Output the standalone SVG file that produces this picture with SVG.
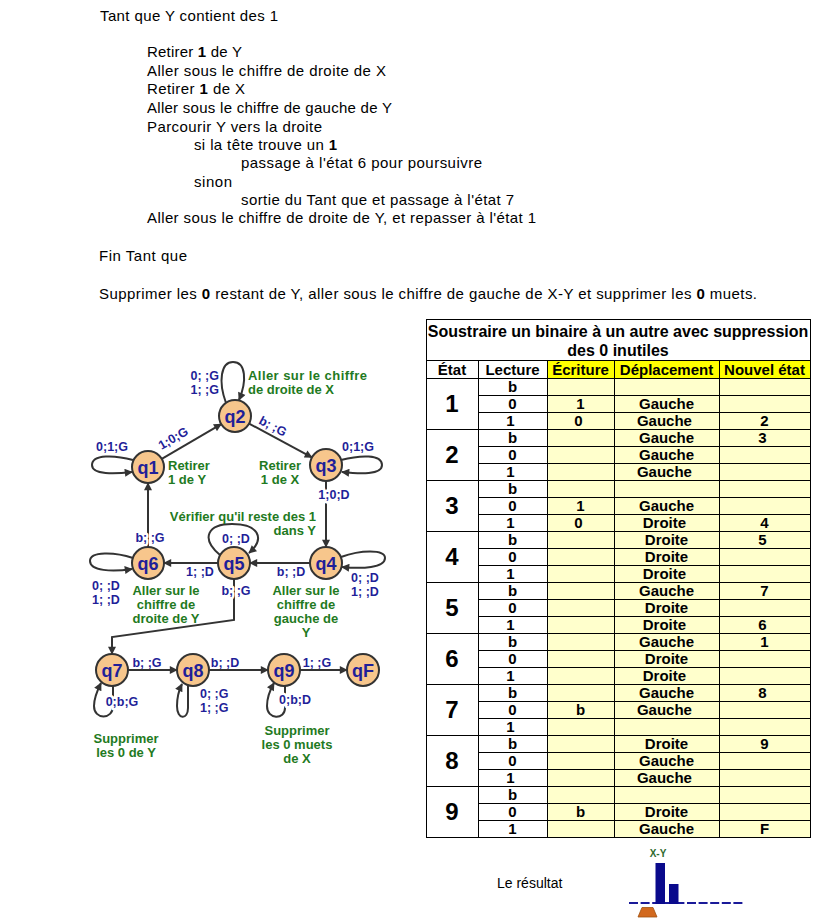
<svg xmlns="http://www.w3.org/2000/svg" width="830" height="920" viewBox="0 0 830 920">
<style>
 text{font-family:"Liberation Sans",Arial,sans-serif}
 .t{font-size:15px;fill:#000}
 .b{font-weight:bold}
 .nd circle{fill:#f7c68c;stroke:#333;stroke-width:2}
 .nd text{font-size:18px;font-weight:bold;fill:#1f1f99;text-anchor:middle}
 .e{fill:none;stroke:#333;stroke-width:2}
 .l{font-size:12.5px;font-weight:bold;fill:#1f1f99;text-anchor:middle}
 .h{stroke:#fff;stroke-width:5;paint-order:stroke;stroke-linejoin:round}
 .g{font-size:13px;font-weight:bold;fill:#1f7a22;text-anchor:middle}
 .td{font-size:15px;font-weight:bold;fill:#000;text-anchor:middle}
 .st{font-size:24px;font-weight:bold;fill:#000;text-anchor:middle}
 .grid{fill:none;stroke:#000;stroke-width:1;shape-rendering:crispEdges}
</style>
<defs>
 <marker id="ar" viewBox="0 0 10 10" refX="9" refY="5" markerWidth="9" markerHeight="8" markerUnits="userSpaceOnUse" orient="auto">
  <path d="M0,0 L10,5 L0,10 z" fill="#333"/>
 </marker>
</defs>
<rect width="830" height="920" fill="#fff"/>

<g id="algorithm">
 <text class="t" x="100" y="21" textLength="178">Tant que Y contient des 1</text>
 <text class="t" x="147" y="57" textLength="95">Retirer <tspan class="b">1</tspan> de Y</text>
 <text class="t" x="147" y="76" textLength="239">Aller sous le chiffre de droite de X</text>
 <text class="t" x="147" y="94" textLength="98">Retirer <tspan class="b">1</tspan> de X</text>
 <text class="t" x="147" y="113" textLength="245">Aller sous le chiffre de gauche de Y</text>
 <text class="t" x="147" y="132" textLength="175">Parcourir Y vers la droite</text>
 <text class="t" x="194" y="150" textLength="143">si la tête trouve un <tspan class="b">1</tspan></text>
 <text class="t" x="241" y="168" textLength="241">passage à l'état 6 pour poursuivre</text>
 <text class="t" x="194" y="187" textLength="38">sinon</text>
 <text class="t" x="241" y="205" textLength="273">sortie du Tant que et passage à l'état 7</text>
 <text class="t" x="147" y="223" textLength="389">Aller sous le chiffre de droite de Y, et repasser à l'état 1</text>
 <text class="t" x="99" y="261" textLength="88">Fin Tant que</text>
 <text class="t" x="99" y="299" textLength="658">Supprimer les <tspan class="b">0</tspan> restant de Y, aller sous le chiffre de gauche de X-Y et supprimer les <tspan class="b">0</tspan> muets.</text>
</g>

<g id="connectors">
 <line class="e" x1="161.8" y1="458.9" x2="221.2" y2="424.1" marker-end="url(#ar)"/>
 <line class="e" x1="249.1" y1="423.6" x2="311.9" y2="457.4" marker-end="url(#ar)"/>
 <line class="e" x1="326" y1="481" x2="326" y2="547" marker-end="url(#ar)"/>
 <line class="e" x1="310" y1="563" x2="250" y2="563" marker-end="url(#ar)"/>
 <line class="e" x1="218" y1="563" x2="164" y2="563" marker-end="url(#ar)"/>
 <line class="e" x1="148" y1="548" x2="148" y2="483" marker-end="url(#ar)"/>
 <path class="e" d="M234 579 L234 620 L112 637 L112 654" marker-end="url(#ar)"/>
 <line class="e" x1="128" y1="670" x2="177" y2="670" marker-end="url(#ar)"/>
 <line class="e" x1="209" y1="670" x2="268" y2="670" marker-end="url(#ar)"/>
 <line class="e" x1="300" y1="670" x2="347" y2="670" marker-end="url(#ar)"/>
 <path class="e" d="M226 403 C218 381 221 362 233 362 C246 362 247 381 239 400" marker-end="url(#ar)"/>
 <path class="e" d="M133 460 C115 455 92 454 92 465 C92 475 115 474 132 472" marker-end="url(#ar)"/>
 <path class="e" d="M341 460 C360 455 382 454 382 465 C382 475 360 474 342 472" marker-end="url(#ar)"/>
 <path class="e" d="M341 557 C360 550 385 549 385 558 C385 568 362 569 342 567" marker-end="url(#ar)"/>
 <path class="e" d="M133 558 C115 552 90 551 90 561 C90 571 112 572 132 569" marker-end="url(#ar)"/>
 <path class="e" d="M220 555 C200 538 208 524 232 524 C258 524 266 538 249 553" marker-end="url(#ar)"/>
 <path class="e" d="M113 686 L113 706 C113 720 94 720 94 706 C94 698 97 691 101 683" marker-end="url(#ar)"/>
 <path class="e" d="M188 685 L188 708 C188 720 177 720 177 706 C177 698 179 690 182 684" marker-end="url(#ar)"/>
 <path class="e" d="M285 686 L285 708 C285 720 267 720 267 706 C267 698 270 690 274 683" marker-end="url(#ar)"/>

 <text class="l" transform="translate(173,438) rotate(-30)" y="4.5">1;0;G</text>
 <text class="l" transform="translate(273,426) rotate(28)" y="4.5">b; ;G</text>
 <text class="l" x="219" y="380" style="text-anchor:end">0; ;G</text>
 <text class="l" x="219" y="394" style="text-anchor:end">1; ;G</text>
 <text class="l" x="112" y="451">0;1;G</text>
 <text class="l" x="358" y="451">0;1;G</text>
 <text class="l h" x="334" y="499">1;0;D</text>
 <text class="l" x="291" y="576">b; ;D</text>
 <text class="l" x="365" y="582">0; ;D</text>
 <text class="l" x="365" y="596">1; ;D</text>
 <text class="l" x="236" y="543">0; ;D</text>
 <text class="l" x="200" y="576">1; ;D</text>
 <text class="l h" x="150" y="542">b; ;G</text>
 <text class="l" x="106" y="590">0; ;D</text>
 <text class="l" x="106" y="604">1; ;D</text>
 <text class="l h" x="236" y="595">b; ;G</text>
 <text class="l" x="147" y="667">b; ;G</text>
 <text class="l" x="225" y="667">b; ;D</text>
 <text class="l" x="317" y="667">1; ;G</text>
 <text class="l h" x="122" y="706">0;b;G</text>
 <text class="l" x="200" y="698" style="text-anchor:start">0; ;G</text>
 <text class="l" x="200" y="712" style="text-anchor:start">1; ;G</text>
 <text class="l h" x="295" y="704">0;b;D</text>
</g>

<g id="q1" class="nd"><circle cx="148" cy="467" r="16"/><text x="148" y="473.5">q1</text></g>
<g id="q2" class="nd"><circle cx="235" cy="416" r="16"/><text x="235" y="422.5">q2</text></g>
<g id="q3" class="nd"><circle cx="326" cy="465" r="16"/><text x="326" y="471.5">q3</text></g>
<g id="q4" class="nd"><circle cx="326" cy="563" r="16"/><text x="326" y="569.5">q4</text></g>
<g id="q5" class="nd"><circle cx="234" cy="563" r="16"/><text x="234" y="569.5">q5</text></g>
<g id="q6" class="nd"><circle cx="148" cy="563" r="16"/><text x="148" y="569.5">q6</text></g>
<g id="q7" class="nd"><circle cx="112" cy="670" r="16"/><text x="112" y="676.5">q7</text></g>
<g id="q8" class="nd"><circle cx="193" cy="670" r="16"/><text x="193" y="676.5">q8</text></g>
<g id="q9" class="nd"><circle cx="284" cy="670" r="16"/><text x="284" y="676.5">q9</text></g>
<g id="qF" class="nd"><circle cx="363" cy="670" r="16"/><text x="363" y="676.5">qF</text></g>

<g id="notes">
 <text class="g" x="248" y="380" style="text-anchor:start" textLength="119">Aller sur le chiffre</text>
 <text class="g" x="248" y="394" style="text-anchor:start">de droite de X</text>
 <text class="g" x="168" y="470" style="text-anchor:start">Retirer</text>
 <text class="g" x="168" y="484" style="text-anchor:start">1 de Y</text>
 <text class="g" x="280" y="470">Retirer</text>
 <text class="g" x="280" y="484">1 de X</text>
 <text class="g" x="316" y="521" style="text-anchor:end">Vérifier qu'il reste des 1</text>
 <text class="g" x="316" y="535" style="text-anchor:end">dans Y</text>
 <text class="g" x="166" y="595">Aller sur le</text>
 <text class="g" x="166" y="609">chiffre de</text>
 <text class="g" x="166" y="623">droite de Y</text>
 <text class="g" x="306" y="595">Aller sur le</text>
 <text class="g" x="306" y="609">chiffre de</text>
 <text class="g" x="306" y="623">gauche de</text>
 <text class="g" x="306" y="637">Y</text>
 <text class="g" x="126" y="743">Supprimer</text>
 <text class="g" x="126" y="757">les 0 de Y</text>
 <text class="g" x="297" y="735">Supprimer</text>
 <text class="g" x="297" y="749">les 0 muets</text>
 <text class="g" x="297" y="763">de X</text>
</g>

<g id="table">
 <rect x="426" y="319" width="384" height="518" fill="#fff"/>
 <rect x="547" y="360" width="263" height="18" fill="#ffff00"/>
 <rect x="547" y="378" width="263" height="459" fill="#ffffcc"/>
 <path class="grid" d="M426.5 319.5 H810.5 V837.5 H426.5 Z
  M426 360.5 H811 M426 378.5 H811
  M426 429.5 H811 M426 480.5 H811 M426 531.5 H811 M426 582.5 H811 M426 633.5 H811 M426 684.5 H811 M426 735.5 H811 M426 786.5 H811
  M478 395.5 H811 M478 412.5 H811 M478 446.5 H811 M478 463.5 H811 M478 497.5 H811 M478 514.5 H811
  M478 548.5 H811 M478 565.5 H811 M478 599.5 H811 M478 616.5 H811 M478 650.5 H811 M478 667.5 H811
  M478 701.5 H811 M478 718.5 H811 M478 752.5 H811 M478 769.5 H811 M478 803.5 H811 M478 820.5 H811
  M478.5 360 V838 M547.5 360 V838 M614.5 360 V838 M719.5 360 V838"/>
 <text class="td" x="618" y="337" style="font-size:16px">Soustraire un binaire à un autre avec suppression</text>
 <text class="td" x="618" y="356" style="font-size:16px">des 0 inutiles</text>
 <text class="td" x="452" y="375">État</text>
 <text class="td" x="512.5" y="375">Lecture</text>
 <text class="td" x="580.5" y="375">Écriture</text>
 <text class="td" x="666.5" y="375">Déplacement</text>
 <text class="td" x="764.5" y="375">Nouvel état</text>

 <text class="st" x="452" y="412">1</text>
 <text class="st" x="452" y="463">2</text>
 <text class="st" x="452" y="514">3</text>
 <text class="st" x="452" y="565">4</text>
 <text class="st" x="452" y="616">5</text>
 <text class="st" x="452" y="667">6</text>
 <text class="st" x="452" y="718">7</text>
 <text class="st" x="452" y="769">8</text>
 <text class="st" x="452" y="820">9</text>

 <text class="td" x="512.5">
  <tspan x="512.5" y="392">b</tspan><tspan x="512.5" y="409">0</tspan><tspan x="512.5" y="426">1</tspan>
  <tspan x="512.5" y="443">b</tspan><tspan x="512.5" y="460">0</tspan><tspan x="512.5" y="477">1</tspan>
  <tspan x="512.5" y="494">b</tspan><tspan x="512.5" y="511">0</tspan><tspan x="512.5" y="528">1</tspan>
  <tspan x="512.5" y="545">b</tspan><tspan x="512.5" y="562">0</tspan><tspan x="512.5" y="579">1</tspan>
  <tspan x="512.5" y="596">b</tspan><tspan x="512.5" y="613">0</tspan><tspan x="512.5" y="630">1</tspan>
  <tspan x="512.5" y="647">b</tspan><tspan x="512.5" y="664">0</tspan><tspan x="512.5" y="681">1</tspan>
  <tspan x="512.5" y="698">b</tspan><tspan x="512.5" y="715">0</tspan><tspan x="512.5" y="732">1</tspan>
  <tspan x="512.5" y="749">b</tspan><tspan x="512.5" y="766">0</tspan><tspan x="512.5" y="783">1</tspan>
  <tspan x="512.5" y="800">b</tspan><tspan x="512.5" y="817">0</tspan><tspan x="512.5" y="834">1</tspan>
 </text>
 <text class="td">
  <tspan x="580.5" y="409">1</tspan><tspan x="580.5" y="426">0</tspan>
  <tspan x="580.5" y="511">1</tspan><tspan x="580.5" y="528">0</tspan>
  <tspan x="580.5" y="715">b</tspan><tspan x="580.5" y="817">b</tspan>
 </text>
 <text class="td">
  <tspan x="666.5" y="409">Gauche</tspan><tspan x="666.5" y="426">Gauche</tspan>
  <tspan x="666.5" y="443">Gauche</tspan><tspan x="666.5" y="460">Gauche</tspan><tspan x="666.5" y="477">Gauche</tspan>
  <tspan x="666.5" y="511">Gauche</tspan><tspan x="666.5" y="528">Droite</tspan>
  <tspan x="666.5" y="545">Droite</tspan><tspan x="666.5" y="562">Droite</tspan><tspan x="666.5" y="579">Droite</tspan>
  <tspan x="666.5" y="596">Gauche</tspan><tspan x="666.5" y="613">Droite</tspan><tspan x="666.5" y="630">Droite</tspan>
  <tspan x="666.5" y="647">Gauche</tspan><tspan x="666.5" y="664">Droite</tspan><tspan x="666.5" y="681">Droite</tspan>
  <tspan x="666.5" y="698">Gauche</tspan><tspan x="666.5" y="715">Gauche</tspan>
  <tspan x="666.5" y="749">Droite</tspan><tspan x="666.5" y="766">Gauche</tspan><tspan x="666.5" y="783">Gauche</tspan>
  <tspan x="666.5" y="817">Droite</tspan><tspan x="666.5" y="834">Gauche</tspan>
 </text>
 <text class="td">
  <tspan x="764.5" y="426">2</tspan><tspan x="764.5" y="443">3</tspan>
  <tspan x="764.5" y="528">4</tspan><tspan x="764.5" y="545">5</tspan>
  <tspan x="764.5" y="596">7</tspan><tspan x="764.5" y="630">6</tspan>
  <tspan x="764.5" y="647">1</tspan><tspan x="764.5" y="698">8</tspan>
  <tspan x="764.5" y="749">9</tspan><tspan x="764.5" y="834">F</tspan>
 </text>
</g>

<g id="result">
 <text x="497" y="888" style="font-size:14px;fill:#000">Le résultat</text>
 <text x="658" y="857" style="font-size:10px;font-weight:bold;fill:#2e6b2e;text-anchor:middle">X-Y</text>
 <line x1="629" y1="903" x2="744" y2="903" stroke="#1a1a99" stroke-width="2" stroke-dasharray="9 2.6"/>
 <rect x="655.5" y="863" width="9.5" height="41" fill="#0a0a8c"/>
 <rect x="669" y="884" width="9.5" height="20" fill="#0a0a8c"/>
 <polygon points="642,907.5 653,907.5 657,917 638,917" fill="#d2691e" stroke="#a0500f" stroke-width="0.8"/>
</g>
</svg>
